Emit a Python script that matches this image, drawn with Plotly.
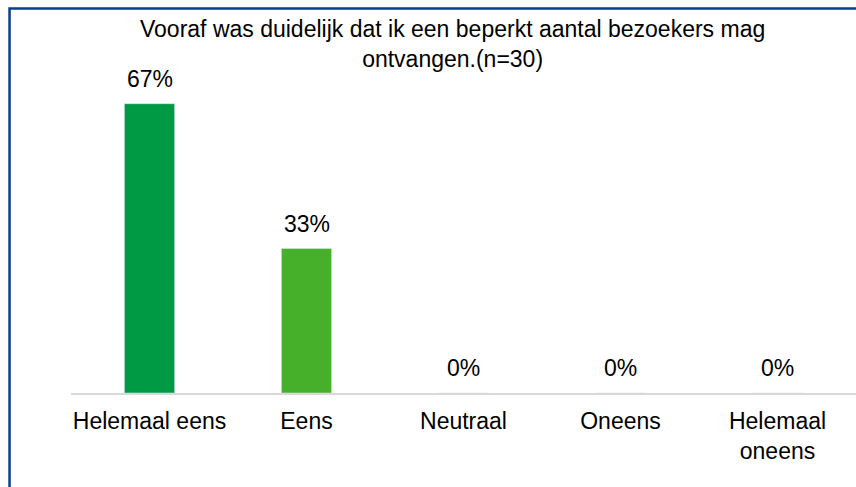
import plotly.graph_objects as go

categories = ["Helemaal eens", "Eens", "Neutraal", "Oneens", "Helemaal<br>oneens"]
percentages = [66.7, 33.3, 0, 0, 0]
labels = ["67%", "33%", "0%", "0%", "0%"]
colors = ["#009944", "#47B02A", "#A6A6A6", "#F28C28", "#E0301E"]

title_text = "Vooraf was duidelijk dat ik een beperkt aantal bezoekers mag<br>ontvangen.(n=30)"

FONT = "Liberation Sans, Arial, sans-serif"
FS = 23

fig = go.Figure()
fig.add_trace(go.Bar(
    x=categories, y=percentages, marker_color=colors, width=0.32,
    hoverinfo="skip",
))

# percentage labels above bars
for cat, val, lab in zip(categories, percentages, labels):
    fig.add_annotation(x=cat, y=val, text=lab, showarrow=False,
                       yanchor="bottom", yshift=10,
                       font=dict(size=FS, color="#000000", family=FONT))

# chart title
fig.add_annotation(x=0.4866, y=1.005, xref="paper", yref="paper",
                   text=title_text, showarrow=False, yanchor="middle",
                   font=dict(size=FS, color="#000000", family=FONT))

# blue frame at left and top (clipped outer box)
fig.add_shape(type="path", xref="paper", yref="paper",
              path="M -0.0783,-0.3 L -0.0783,1.108 L 1.05,1.108",
              line=dict(color="#0B3D91", width=2.5))

fig.update_layout(
    width=856, height=487,
    margin=dict(l=71, r=0, t=46, b=94),
    paper_bgcolor="white", plot_bgcolor="white",
    showlegend=False,
    font=dict(family=FONT, size=FS, color="#000000"),
    xaxis=dict(showline=True, linecolor="#D9D9D9", linewidth=2,
               ticks="", showgrid=False, ticklabelstandoff=6,
               tickfont=dict(size=FS, color="#000000")),
    yaxis=dict(range=[0, 80], visible=False, showgrid=False),
)

fig.write_html("out.html", config={"displayModeBar": False},
               post_script="document.body.style.margin='0px';")
